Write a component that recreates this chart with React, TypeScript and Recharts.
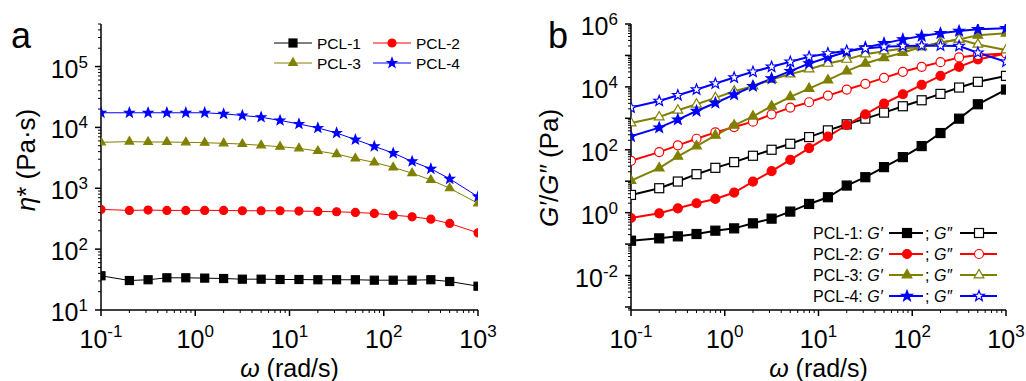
import React from "react";
import { LineChart, Line, XAxis, YAxis, Legend } from "recharts";

// angular frequency (rad/s), shared by both panels
const omega = [0.1, 0.2, 0.316, 0.5, 0.794, 1.26, 2, 3.16, 5, 7.94, 12.6, 20, 31.6, 50, 79.4, 126, 200, 316, 501, 1000];

// panel a: complex viscosity (Pa·s)
const etaPcl1 = [36.5, 30.5, 31.4, 33.8, 33.8, 33.4, 32.9, 32.1, 32.1, 31.7, 31.7, 31.4, 31.4, 31.4, 30.9, 30.9, 30.9, 31.4, 29.4, 24.6];
const etaPcl2 = [450, 433, 438, 433, 433, 433, 433, 427, 427, 427, 422, 417, 411, 401, 386, 362, 340, 311, 264, 185];
const etaPcl3 = [5690, 5840, 5760, 5760, 5690, 5610, 5470, 5330, 5070, 4820, 4530, 4090, 3650, 3090, 2660, 2200, 1770, 1370, 1000, 565];
const etaPcl4 = [17400, 17400, 17400, 17400, 17400, 17400, 16700, 15700, 14700, 13000, 11400, 9800, 8100, 6300, 4890, 3790, 2760, 2090, 1430, 728];

// panel b: storage (G') and loss (G'') modulus (Pa)
const gp1 = [0.128, 0.152, 0.176, 0.209, 0.267, 0.316, 0.457, 0.644, 1.08, 1.89, 3.09, 7.27, 13.4, 28.0, 58.3, 131, 340, 975, 2800, 8220];
const gpp1 = [3.66, 5.98, 9.76, 16.7, 26.6, 40.4, 64.4, 100, 155, 253, 414, 644, 975, 1520, 2420, 3750, 5980, 9530, 14500, 22400];
const gp2 = [0.676, 0.953, 1.37, 1.99, 2.73, 4.35, 9.75, 20.8, 48, 113, 260, 612, 1340, 2940, 5830, 11600, 22400, 43500, 74500, 116000];
const gpp2 = [44.6, 84.3, 138, 224, 357, 528, 783, 1340, 2190, 3240, 5280, 8220, 12500, 19400, 30100, 43500, 61200, 86300, 103000, 116000];
const gp3 = [10.5, 26, 61.3, 131, 287, 598, 1160, 2420, 4800, 8850, 16300, 31600, 55600, 84300, 122000, 189000, 260000, 324000, 435000, 504000];
const gpp3 = [710, 1100, 1800, 2800, 4460, 7280, 10500, 17100, 25400, 36600, 55600, 74500, 110000, 137000, 167000, 189000, 254000, 324000, 224000, 148000];
const gp4 = [267, 504, 906, 1710, 3080, 5690, 10500, 18400, 31600, 55600, 86300, 131000, 180000, 242000, 324000, 414000, 504000, 598000, 676000, 728000];
const gpp4 = [2190, 3570, 5420, 8220, 12800, 19800, 30100, 43500, 62800, 90600, 116000, 141000, 167000, 189000, 199000, 204000, 204000, 199000, 122000, 62800];

// labelled decades
const xLabelled = [0.1, 1, 10, 100, 1000];
const yLabelledA = [10, 100, 1000, 10000, 100000];
const yLabelledB = [0.01, 1, 100, 10000, 1000000];

const BLACK = "#000000";
const RED = "#FF0000";
const OLIVE = "#808000";
const BLUE = "#0000FF";
const FONT = '"Liberation Sans", Arial, "DejaVu Sans", sans-serif';

type Shape = "square" | "circle" | "triangle" | "star";

const rowsA = omega.map((w, i) => ({ w, p1: etaPcl1[i], p2: etaPcl2[i], p3: etaPcl3[i], p4: etaPcl4[i] }));
const rowsB = omega.map((w, i) => ({
  w,
  gp1: gp1[i], gpp1: gpp1[i],
  gp2: gp2[i], gpp2: gpp2[i],
  gp3: gp3[i], gpp3: gpp3[i],
  gp4: gp4[i], gpp4: gpp4[i],
}));

const seriesA = [
  { key: "p1", name: "PCL-1", color: BLACK, shape: "square" as Shape },
  { key: "p2", name: "PCL-2", color: RED, shape: "circle" as Shape },
  { key: "p3", name: "PCL-3", color: OLIVE, shape: "triangle" as Shape },
  { key: "p4", name: "PCL-4", color: BLUE, shape: "star" as Shape },
];

const seriesB = [
  { key: "gp1", color: BLACK, shape: "square" as Shape, open: false },
  { key: "gpp1", color: BLACK, shape: "square" as Shape, open: true },
  { key: "gp2", color: RED, shape: "circle" as Shape, open: false },
  { key: "gpp2", color: RED, shape: "circle" as Shape, open: true },
  { key: "gp3", color: OLIVE, shape: "triangle" as Shape, open: false },
  { key: "gpp3", color: OLIVE, shape: "triangle" as Shape, open: true },
  { key: "gp4", color: BLUE, shape: "star" as Shape, open: false },
  { key: "gpp4", color: BLUE, shape: "star" as Shape, open: true },
];

function starPoints(cx: number, cy: number, r: number) {
  const pts: string[] = [];
  for (let i = 0; i < 10; i++) {
    const rr = i % 2 === 0 ? r : r * 0.42;
    const a = -Math.PI / 2 + (i * Math.PI) / 5;
    pts.push(`${cx + rr * Math.cos(a)},${cy + rr * Math.sin(a)}`);
  }
  return pts.join(" ");
}

const Marker = ({ cx, cy, shape, color, open, size }: any) => {
  const fill = open ? "#fff" : color;
  const sw = 1.2;
  if (shape === "square") {
    return <rect x={cx - size / 2} y={cy - size / 2} width={size} height={size} fill={fill} stroke={color} strokeWidth={sw} />;
  }
  if (shape === "circle") {
    return <circle cx={cx} cy={cy} r={size / 2} fill={fill} stroke={color} strokeWidth={sw} />;
  }
  if (shape === "triangle") {
    const r = size * 0.62;
    const pts = `${cx},${cy - r} ${cx + 0.866 * r},${cy + 0.5 * r} ${cx - 0.866 * r},${cy + 0.5 * r}`;
    return <polygon points={pts} fill={fill} stroke={color} strokeWidth={sw} strokeLinejoin="miter" />;
  }
  return <polygon points={starPoints(cx, cy, size * 0.62)} fill={fill} stroke={color} strokeWidth={sw} />;
};

const dotFor = (shape: Shape, color: string, open: boolean, size: number) => (p: any) => {
  if (p.cx == null || p.cy == null) return <g key={`e-${p.index}`} />;
  return <Marker key={`${p.dataKey}-${p.index}`} cx={p.cx} cy={p.cy} shape={shape} color={color} open={open} size={size} />;
};

function logTicks(lo: number, hi: number) {
  const out: number[] = [];
  for (let e = Math.floor(Math.log10(lo)); e <= Math.ceil(Math.log10(hi)); e++) {
    for (let m = 1; m <= 9; m++) {
      const v = Number((m * Math.pow(10, e)).toPrecision(6));
      if (v >= lo * 0.999999 && v <= hi * 1.000001) out.push(v);
    }
  }
  return out;
}

const AxisTick = (props: any) => {
  const { x, y, payload, side, labelled } = props;
  const v = payload.value;
  const lg = Math.log10(v);
  const exp = Math.round(lg);
  const major = Math.abs(lg - exp) < 1e-6;
  const len = major ? 6 : 3;
  const show = major && labelled.some((l: number) => Math.abs(Math.log10(l) - lg) < 1e-6);
  if (side === "bottom") {
    return (
      <g>
        <line x1={x} y1={y} x2={x} y2={y + len} stroke="#000" strokeWidth={major ? 1.5 : 1} />
        {show && (
          <text x={x} y={y + 38} textAnchor="middle" fontSize={25} fill="#000" fontFamily={FONT}>
            10<tspan dy={-11} fontSize={17}>{String(exp)}</tspan>
          </text>
        )}
      </g>
    );
  }
  return (
    <g>
      <line x1={x} y1={y} x2={x - len} y2={y} stroke="#000" strokeWidth={major ? 1.5 : 1} />
      {show && (
        <text x={x - 13} y={y + 11} textAnchor="end" fontSize={25} fill="#000" fontFamily={FONT}>
          10<tspan dy={-10} fontSize={17}>{String(exp)}</tspan>
        </text>
      )}
    </g>
  );
};

const xTitle = (p: any) => {
  const vb = p.viewBox;
  return (
    <text x={vb.x + vb.width / 2} y={vb.y + 67} textAnchor="middle" fontSize={25} fill="#000" fontFamily={FONT}>
      <tspan fontStyle="italic">ω</tspan> (rad/s)
    </text>
  );
};

const LegendA = () => (
  <svg width={210} height={46}>
    {seriesA.map((s, i) => {
      const col = i % 2;
      const row = Math.floor(i / 2);
      const x0 = col === 0 ? 4 : 103;
      const cy = 13 + row * 20;
      return (
        <g key={s.key}>
          <line x1={x0} y1={cy} x2={x0 + 38} y2={cy} stroke={s.color} strokeWidth={1} />
          <Marker cx={x0 + 19} cy={cy} shape={s.shape} color={s.color} open={false} size={8} />
          <text x={x0 + 43} y={cy + 5.5} fontSize={15.5} fill="#000" fontFamily={FONT}>{s.name}</text>
        </g>
      );
    })}
  </svg>
);

const legendBRows = [
  { name: "PCL-1", color: BLACK, shape: "square" as Shape },
  { name: "PCL-2", color: RED, shape: "circle" as Shape },
  { name: "PCL-3", color: OLIVE, shape: "triangle" as Shape },
  { name: "PCL-4", color: BLUE, shape: "star" as Shape },
];

const LegendB = () => (
  <svg width={200} height={90}>
    {legendBRows.map((r, i) => {
      const cy = 13 + i * 21;
      return (
        <g key={r.name}>
          <text x={8} y={cy + 5.5} fontSize={16} fill="#000" fontFamily={FONT}>
            {r.name}: <tspan fontStyle="italic">G′</tspan>
          </text>
          <line x1={84} y1={cy} x2={118} y2={cy} stroke={r.color} strokeWidth={2} />
          <Marker cx={102} cy={cy} shape={r.shape} color={r.color} open={false} size={9} />
          <text x={120} y={cy + 5.5} fontSize={16} fill="#000" fontFamily={FONT}>
            ; <tspan fontStyle="italic">G″</tspan>
          </text>
          <line x1={155} y1={cy} x2={192} y2={cy} stroke={r.color} strokeWidth={2} />
          <Marker cx={174} cy={cy} shape={r.shape} color={r.color} open={true} size={9} />
        </g>
      );
    })}
  </svg>
);

const axisLine = { stroke: "#000", strokeWidth: 1.5 };

export default function App() {
  const xTicks = logTicks(0.1, 1000);
  const yTicksA = logTicks(10, 5e5);
  const yTicksB = logTicks(8e-4, 1e6);

  return (
    <div style={{ position: "absolute", left: 0, top: 0, width: 1026, height: 381, background: "#fff", fontFamily: FONT }}>
      {/* panel a */}
      <div style={{ position: "absolute", left: 0, top: 0 }}>
        <LineChart width={513} height={381} data={rowsA} margin={{ top: 24, right: 35, bottom: 0, left: 0 }}>
          <XAxis
            dataKey="w" type="number" scale="log" domain={[0.1, 1000]} allowDataOverflow
            ticks={xTicks} interval={0} tickSize={0} tickMargin={0} tickLine={false}
            tick={(p: any) => <AxisTick {...p} side="bottom" labelled={xLabelled} />}
            height={71} axisLine={axisLine} label={xTitle}
          />
          <XAxis xAxisId="top" orientation="top" dataKey="w" type="number" scale="log" domain={[0.1, 1000]} allowDataOverflow height={0} tick={false} tickLine={false} axisLine={axisLine} />
          <YAxis
            type="number" scale="log" domain={[10, 5e5]} allowDataOverflow
            ticks={yTicksA} interval={0} tickSize={0} tickMargin={0} tickLine={false}
            tick={(p: any) => <AxisTick {...p} side="left" labelled={yLabelledA} />}
            width={101} axisLine={axisLine}
            label={() => (
              <text x={35} y={160} transform="rotate(-90, 35, 160)" textAnchor="middle" fontSize={26} fill="#000" fontFamily={FONT}>
                <tspan fontStyle="italic">η</tspan>* (Pa·s)
              </text>
            )}
          />
          <YAxis yAxisId="right" orientation="right" type="number" scale="log" domain={[10, 5e5]} allowDataOverflow width={0} tick={false} tickLine={false} axisLine={axisLine} />
          <Legend
            layout="vertical" align="center" verticalAlign="middle"
            wrapperStyle={{ position: "absolute", left: 270, top: 30, width: 210, height: 46 }}
            content={() => <LegendA />}
          />
          {seriesA.map((s) => (
            <Line
              key={s.key} dataKey={s.key} stroke={s.color} strokeWidth={1}
              dot={dotFor(s.shape, s.color, false, 8)} activeDot={false} isAnimationActive={false}
            />
          ))}
        </LineChart>
      </div>

      {/* panel b */}
      <div style={{ position: "absolute", left: 513, top: 0 }}>
        <LineChart width={513} height={381} data={rowsB} margin={{ top: 24, right: 20, bottom: 0, left: 0 }}>
          <XAxis
            dataKey="w" type="number" scale="log" domain={[0.1, 1000]} allowDataOverflow
            ticks={xTicks} interval={0} tickSize={0} tickMargin={0} tickLine={false}
            tick={(p: any) => <AxisTick {...p} side="bottom" labelled={xLabelled} />}
            height={71} axisLine={axisLine} label={xTitle}
          />
          <XAxis xAxisId="top" orientation="top" dataKey="w" type="number" scale="log" domain={[0.1, 1000]} allowDataOverflow height={0} tick={false} tickLine={false} axisLine={axisLine} />
          <YAxis
            type="number" scale="log" domain={[8e-4, 1e6]} allowDataOverflow
            ticks={yTicksB} interval={0} tickSize={0} tickMargin={0} tickLine={false}
            tick={(p: any) => <AxisTick {...p} side="left" labelled={yLabelledB} />}
            width={118} axisLine={axisLine}
            label={() => (
              <text x={45} y={168} transform="rotate(-90, 45, 168)" textAnchor="middle" fontSize={26} fill="#000" fontFamily={FONT}>
                <tspan fontStyle="italic">G′</tspan>/<tspan fontStyle="italic">G″</tspan> (Pa)
              </text>
            )}
          />
          <YAxis yAxisId="right" orientation="right" type="number" scale="log" domain={[8e-4, 1e6]} allowDataOverflow width={0} tick={false} tickLine={false} axisLine={axisLine} />
          <Legend
            layout="vertical" align="center" verticalAlign="middle"
            wrapperStyle={{ position: "absolute", left: 292, top: 220, width: 200, height: 90 }}
            content={() => <LegendB />}
          />
          {seriesB.map((s) => (
            <Line
              key={s.key} dataKey={s.key} stroke={s.color} strokeWidth={2}
              dot={dotFor(s.shape, s.color, s.open, 9)} activeDot={false} isAnimationActive={false}
            />
          ))}
        </LineChart>
      </div>

      {/* panel letters */}
      <svg width={1026} height={381} style={{ position: "absolute", left: 0, top: 0, pointerEvents: "none" }}>
        <text x={11} y={48} fontSize={36} fill="#000" fontFamily={FONT}>a</text>
        <text x={548} y={48} fontSize={36} fill="#000" fontFamily={FONT}>b</text>
      </svg>
    </div>
  );
}
